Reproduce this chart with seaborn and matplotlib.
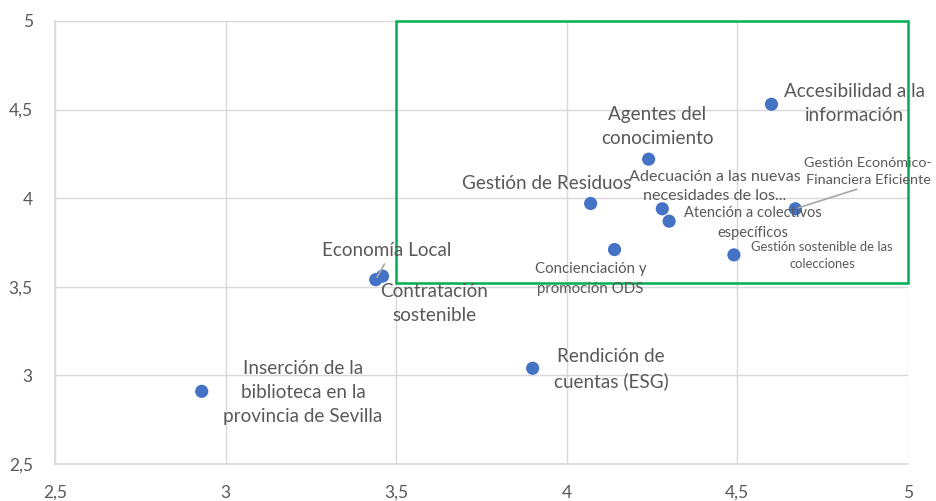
import matplotlib
matplotlib.use("Agg")
import matplotlib.pyplot as plt
import matplotlib.patches as mpatches
from matplotlib.ticker import FuncFormatter
import seaborn as sns
import pandas as pd

# ---------------------------------------------------------------------------
# Data
# ---------------------------------------------------------------------------
labels = [
    "Inserción de la\nbiblioteca en la\nprovincia de Sevilla",
    "Economía Local",
    "Contratación\nsostenible",
    "Rendición de\ncuentas (ESG)",
    "Gestión de Residuos",
    "Concienciación y\npromoción ODS",
    "Agentes del\nconocimiento",
    "Adecuación a las nuevas\nnecesidades de los...",
    "Atención a colectivos\nespecíficos",
    "Gestión sostenible de las\ncolecciones",
    "Accesibilidad a la\ninformación",
    "Gestión Económico-\nFinanciera Eficiente",
]
x_vals = [2.93, 3.44, 3.46, 3.90, 4.07, 4.14, 4.24, 4.28, 4.30, 4.49, 4.60, 4.67]
y_vals = [2.91, 3.54, 3.56, 3.04, 3.97, 3.71, 4.22, 3.94, 3.87, 3.68, 4.53, 3.94]

# label layout: (text x, text y, font size, leader line)
label_pos = [
    (3.227, 2.906, 13.6, False),
    (3.473, 3.702, 13.6, True),
    (3.611, 3.403, 13.6, False),
    (4.130, 3.036, 13.6, False),
    (3.942, 4.080, 13.6, False),
    (4.070, 3.544, 10.8, False),
    (4.266, 4.402, 13.6, False),
    (4.434, 4.066, 11.6, False),
    (4.545, 3.860, 10.5, False),
    (4.748, 3.679, 9.4, False),
    (4.842, 4.532, 13.6, False),
    (4.884, 4.153, 10.4, True),
]

df = pd.DataFrame({"x": x_vals, "y": y_vals, "label": labels})

GREY_TXT = "#595959"
GRID = "#D9D9D9"
BLUE = "#4472C4"
GREEN = "#00B050"

sns.set_style("white")
plt.rcParams["font.family"] = ["Lato", "DejaVu Sans"]

fig = plt.figure(figsize=(9.36, 5.01), dpi=100)
ax = fig.add_axes([0.0588, 0.0739, 0.9112, 0.8843])

sns.scatterplot(data=df, x="x", y="y", ax=ax, color=BLUE, s=90,
                edgecolor="none", zorder=3)

ax.set_xlim(2.5, 5)
ax.set_ylim(2.5, 5)
ticks = [2.5, 3, 3.5, 4, 4.5, 5]
ax.set_xticks(ticks)
ax.set_yticks(ticks)
fmt = FuncFormatter(lambda v, _: f"{v:g}".replace(".", ","))
ax.xaxis.set_major_formatter(fmt)
ax.yaxis.set_major_formatter(fmt)
ax.tick_params(axis="both", length=0, labelsize=12.5, colors=GREY_TXT)
ax.tick_params(axis="y", pad=16)
ax.tick_params(axis="x", pad=15)
ax.grid(True, color=GRID, lw=1)
for side in ["top", "right"]:
    ax.spines[side].set_visible(False)
for side in ["left", "bottom"]:
    ax.spines[side].set_color(GRID)
    ax.spines[side].set_linewidth(1.2)
ax.set_xlabel("")
ax.set_ylabel("")

# green highlight box
ax.add_patch(mpatches.Rectangle((3.5, 3.52), 1.5, 1.48, fill=False,
                                edgecolor=GREEN, lw=1.8, zorder=4,
                                clip_on=False))

for (lab, px, py), (tx, ty, fs, leader) in zip(
        zip(labels, x_vals, y_vals), label_pos):
    arrow = None
    if leader:
        arrow = dict(arrowstyle="-", color="#A6A6A6", lw=1.2,
                     shrinkA=1, shrinkB=2, relpos=(0.5, 0.0))
    ax.annotate(lab, xy=(px, py), xytext=(tx, ty), textcoords="data",
                ha="center", va="center", fontsize=fs, color=GREY_TXT,
                linespacing=1.5, arrowprops=arrow, zorder=5)

fig.savefig("out.png", dpi=100)
